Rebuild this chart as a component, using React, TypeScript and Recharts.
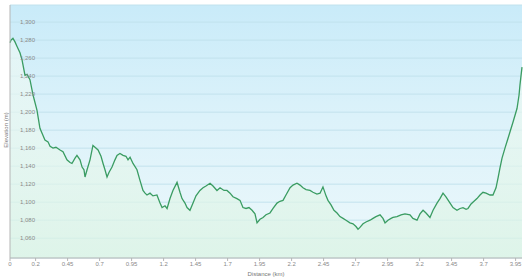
import React from "react";
import { ComposedChart, Area, XAxis, YAxis, CartesianGrid } from "recharts";

const distances = [
  0, 0.008, 0.023, 0.039, 0.055, 0.078, 0.094, 0.117, 0.133, 0.156, 0.18, 0.211, 0.234, 0.258, 0.273, 0.297,
  0.313, 0.336, 0.359, 0.391, 0.414, 0.445, 0.469, 0.484, 0.508, 0.523, 0.547, 0.563, 0.578, 0.586, 0.602,
  0.625, 0.648, 0.664, 0.688, 0.711, 0.727, 0.742, 0.758, 0.773, 0.797, 0.82, 0.836, 0.859, 0.883, 0.906,
  0.922, 0.938, 0.961, 0.992, 1.016, 1.039, 1.055, 1.07, 1.094, 1.117, 1.148, 1.172, 1.188, 1.211, 1.227,
  1.25, 1.273, 1.305, 1.328, 1.344, 1.367, 1.383, 1.406, 1.43, 1.453, 1.484, 1.508, 1.531, 1.563, 1.586,
  1.617, 1.641, 1.672, 1.695, 1.719, 1.742, 1.773, 1.797, 1.82, 1.844, 1.867, 1.891, 1.914, 1.93, 1.953,
  1.977, 2.0, 2.031, 2.055, 2.086, 2.109, 2.133, 2.156, 2.188, 2.211, 2.242, 2.266, 2.289, 2.313, 2.344,
  2.367, 2.398, 2.422, 2.445, 2.469, 2.484, 2.508, 2.531, 2.555, 2.578, 2.602, 2.625, 2.656, 2.68, 2.703,
  2.719, 2.734, 2.758, 2.781, 2.813, 2.836, 2.859, 2.891, 2.914, 2.93, 2.953, 2.977, 2.992, 3.023, 3.055,
  3.086, 3.125, 3.148, 3.18, 3.203, 3.227, 3.25, 3.281, 3.305, 3.336, 3.359, 3.383, 3.406, 3.438, 3.461,
  3.492, 3.516, 3.539, 3.563, 3.578, 3.602, 3.625, 3.648, 3.672, 3.695, 3.719, 3.75, 3.773, 3.797, 3.813,
  3.828, 3.844, 3.867, 3.891, 3.906, 3.93, 3.961, 3.977, 3.984, 4.0,
];

const elevations = [
  1277, 1280, 1282, 1278, 1273, 1266, 1258, 1241, 1242, 1236, 1219, 1202, 1182, 1174, 1169, 1167,
  1162, 1160, 1161, 1158, 1156, 1147, 1144, 1143, 1149, 1152, 1147, 1139, 1136, 1128, 1136,
  1147, 1163, 1161, 1158, 1151, 1143, 1136, 1128, 1133, 1139, 1147, 1152, 1154, 1152, 1151,
  1147, 1150, 1143, 1136, 1124, 1113, 1110, 1108, 1110, 1107, 1108, 1099, 1094, 1096, 1093,
  1104, 1113, 1122, 1111, 1104, 1099, 1094, 1091, 1099, 1107, 1113, 1116, 1118, 1121, 1118,
  1113, 1116, 1113, 1113, 1110, 1106, 1104, 1102, 1094, 1093, 1094, 1091, 1087, 1077, 1081,
  1083, 1086, 1088, 1093, 1099, 1101, 1102, 1108, 1116, 1119, 1121, 1119, 1116, 1114, 1113,
  1111, 1109, 1110, 1117, 1107, 1102, 1097, 1091, 1088, 1084, 1082, 1080, 1077, 1076, 1073,
  1070, 1072, 1076, 1078, 1080, 1082, 1084, 1086, 1082, 1077, 1080, 1082, 1083, 1084, 1086,
  1087, 1086, 1082, 1080, 1087, 1091, 1088, 1083, 1091, 1099, 1104, 1110, 1106, 1099, 1094,
  1091, 1093, 1094, 1092, 1093, 1098, 1101, 1104, 1108, 1111, 1110, 1108, 1108, 1116, 1127,
  1138, 1149, 1160, 1171, 1178, 1189, 1204, 1219, 1230, 1250,
];

const xTicks = [0, 0.2, 0.45, 0.7, 0.95, 1.2, 1.45, 1.7, 1.95, 2.2, 2.45, 2.7, 2.95, 3.2, 3.45, 3.7, 3.95];
const yTicks = [1060, 1080, 1100, 1120, 1140, 1160, 1180, 1200, 1220, 1240, 1260, 1280, 1300];

const xTitle = "Distance (km)";
const yTitle = "Elevation (m)";

const data = distances.map((d, i) => ({ d, e: elevations[i] }));

const FONT = "'Liberation Sans', Arial, sans-serif";

export default function App() {
  return (
    <div style={{ position: "absolute", left: 0, top: 0, width: 529, height: 279, background: "#fff", fontFamily: FONT }}>
      <ComposedChart width={529} height={279} data={data} margin={{ top: 5, right: 7, bottom: 0, left: 10 }}>
        <defs>
          <linearGradient id="bgGrad" x1="0" y1="0" x2="0" y2="1">
            <stop offset="0%" stopColor="#c9ebf9" />
            <stop offset="45%" stopColor="#dcf2fa" />
            <stop offset="100%" stopColor="#ecf8fb" />
          </linearGradient>
          <linearGradient id="areaGrad" x1="0" y1="0" x2="0" y2="1">
            <stop offset="0%" stopColor="#f4fbf6" stopOpacity={0.55} />
            <stop offset="100%" stopColor="#d9f3e3" stopOpacity={0.75} />
          </linearGradient>
        </defs>
        <CartesianGrid vertical={false} stroke="#c2e2ed" strokeWidth={1} fill="url(#bgGrad)" />
        <XAxis
          dataKey="d"
          type="number"
          domain={[0, 4]}
          ticks={xTicks}
          interval={0}
          height={21}
          tick={{ fontSize: 6, fill: "#8a8a8a", fontFamily: FONT }}
          tickFormatter={(v: number) => String(v)}
          tickSize={3}
          tickMargin={1}
          stroke="#b5b5b5"
          label={{ value: xTitle, position: "insideBottom", offset: 3, fontSize: 6, fill: "#777", fontFamily: FONT }}
        />
        <YAxis
          type="number"
          domain={[1038, 1319]}
          ticks={yTicks}
          interval={0}
          mirror
          tickLine={false}
          tickMargin={4}
          tick={{ fontSize: 6, fill: "#8a8a8a", fontFamily: FONT, textAnchor: "start" }}
          tickFormatter={(v: number) => v.toLocaleString("en-US")}
          stroke="#b5b5b5"
        />
        <Area
          type="linear"
          dataKey="e"
          stroke="#3a9c62"
          strokeWidth={1.3}
          fill="url(#areaGrad)"
          fillOpacity={1}
          baseValue="dataMin"
          isAnimationActive={false}
          dot={false}
          activeDot={false}
        />
      </ComposedChart>
      <div
        style={{
          position: "absolute",
          left: 6,
          top: 130,
          transform: "translate(-50%, -50%) rotate(-90deg)",
          fontSize: 6,
          color: "#777",
          whiteSpace: "nowrap",
          fontFamily: FONT,
        }}
      >
        {yTitle}
      </div>
    </div>
  );
}
